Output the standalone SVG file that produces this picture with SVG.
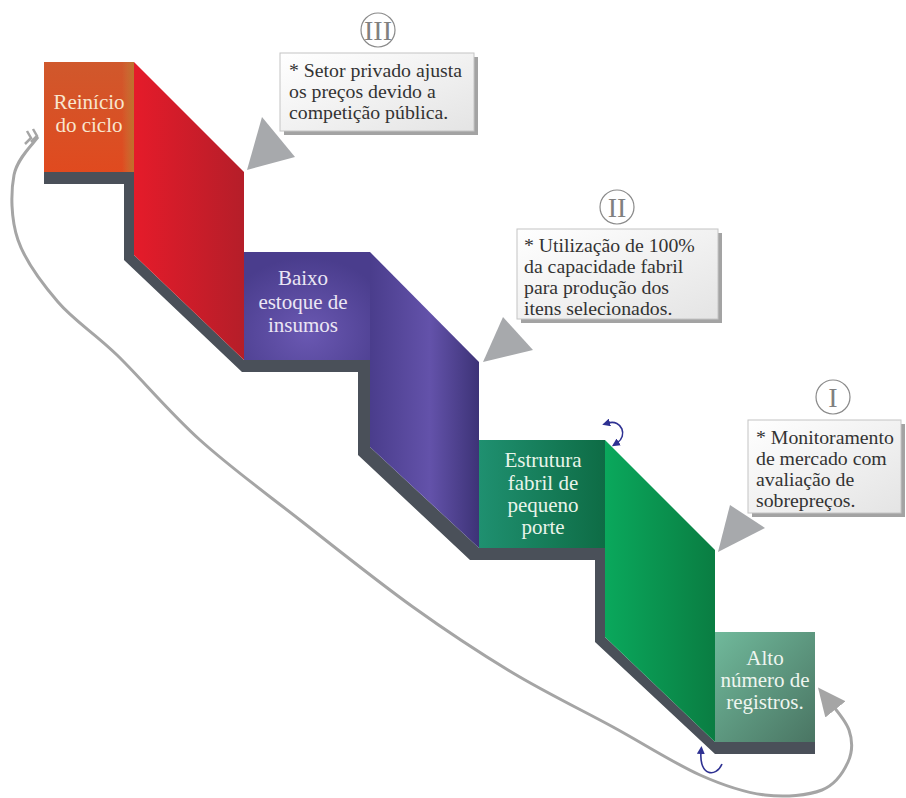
<svg xmlns="http://www.w3.org/2000/svg" width="906" height="798" viewBox="0 0 906 798">
<defs>
<style>
.node-text{font-family:"Liberation Serif","Times New Roman",serif;font-size:21px;text-anchor:middle}
.callout-text{font-family:"Liberation Serif","Times New Roman",serif;font-size:19.8px;fill:#333333}
.roman{font-family:"Liberation Serif","Times New Roman",serif;font-size:28px;fill:#808080;text-anchor:middle}
.ring{fill:#fff;stroke:#8a8a8a;stroke-width:1.2}
.box{fill:url(#boxGrad);stroke:#c4c4c4;stroke-width:1}
.boxShadow{fill:#a3a3a3}
.pointer{fill:#a7a9ac}
.loop{fill:none;stroke:#a5a5a5;stroke-width:3}
.curl{fill:none;stroke:#2e3192;stroke-width:1.6}
</style>
<linearGradient id="boxGrad" x1="0" y1="0" x2="1" y2="1">
<stop offset="0" stop-color="#ffffff"/><stop offset="1" stop-color="#e4e4e4"/>
</linearGradient>
<linearGradient id="orangeG" x1="0" y1="0" x2="0" y2="1">
<stop offset="0" stop-color="#d0582c"/><stop offset="1" stop-color="#e04a1f"/>
</linearGradient>
<linearGradient id="foldO" x1="0" y1="0" x2="1" y2="0">
<stop offset="0" stop-color="#c88040" stop-opacity="0"/><stop offset="1" stop-color="#b8782e" stop-opacity="0.8"/>
</linearGradient>
<linearGradient id="redG" x1="0" y1="0" x2="1" y2="0">
<stop offset="0" stop-color="#e51b2a"/><stop offset="1" stop-color="#b51e29"/>
</linearGradient>
<radialGradient id="purpleSq" cx="0.5" cy="0.75" r="0.7">
<stop offset="0" stop-color="#6a58b2"/><stop offset="1" stop-color="#4a3d8d"/>
</radialGradient>
<linearGradient id="purpleG" x1="0" y1="0" x2="1" y2="0">
<stop offset="0" stop-color="#4a3d8c"/><stop offset="0.55" stop-color="#6352aa"/><stop offset="1" stop-color="#3d3377"/>
</linearGradient>
<linearGradient id="greenSq" x1="0" y1="0" x2="1" y2="0">
<stop offset="0" stop-color="#1f9070"/><stop offset="1" stop-color="#0e6c45"/>
</linearGradient>
<linearGradient id="greenG" x1="0" y1="0" x2="1" y2="0">
<stop offset="0" stop-color="#0aa85c"/><stop offset="1" stop-color="#0a7d42"/>
</linearGradient>
<linearGradient id="altoG" x1="0" y1="0" x2="1" y2="1">
<stop offset="0" stop-color="#70b99b"/><stop offset="1" stop-color="#4a7563"/>
</linearGradient>
<marker id="loopHead" markerUnits="userSpaceOnUse" markerWidth="30" markerHeight="26" viewBox="0 0 30 26" refX="12" refY="13" orient="auto">
<path d="M0,0 L28,13 L0,26 z" fill="#a5a5a5"/>
</marker>
<marker id="curlHead" markerUnits="userSpaceOnUse" markerWidth="8" markerHeight="8" viewBox="0 0 8 8" refX="2" refY="4" orient="auto-start-reverse">
<path d="M0,0 L8,4 L0,8 z" fill="#2e3192"/>
</marker>
</defs>
<rect width="906" height="798" fill="#ffffff"/>

<g id="stairs">
<polygon id="shadow" fill="#4a5059" points="44,172 134,172 134,255 244,360 370,360 370,447 479,548 605,548 605,637 715,742 815,742 815,754 715,754 595,642 595,560 470,560 358,455 358,372 242,372 124,260 124,184 44,184"/>
<polygon id="riser-red" fill="url(#redG)" points="134,62 244,172 244,360 134,255"/>
<polygon id="riser-purple" fill="url(#purpleG)" points="370,252 479,362 479,548 370,447"/>
<polygon id="riser-green" fill="url(#greenG)" points="605,440 715,550 715,742 605,637"/>
</g>

<g id="connectors">
<path class="loop" marker-end="url(#loopHead)" d="M38,137 C34,143 17.3,157.8 14,175 C10.7,192.2 10.7,218.8 18,240 C25.3,261.2 41.5,282.8 58,302 C74.5,321.2 93.3,332 117,355 C140.7,378 169.5,412.5 200,440 C230.5,467.5 264.5,492.2 300,520 C335.5,547.8 377.5,581.5 413,607 C448.5,632.5 479.7,653 513,673 C546.3,693 581.8,710 613,727 C644.2,744 674.7,763.7 700,775 C725.3,786.3 744.7,792.5 765,795 C785.3,797.5 808.2,795.5 822,790 C835.8,784.5 843.5,772 848,762 C852.5,752 852.7,740.7 849,730 C845.3,719.3 832,705 828,700"/>
<path fill="none" stroke="#a5a5a5" stroke-width="2.5" d="M27,131 L31,138 L25,144 M33,129 L37,136 L31,142"/>
<polygon class="pointer" points="247,170 262,117 295,157"/>
<polygon class="pointer" points="483,362 503,317 533,350"/>
<polygon class="pointer" points="718,552 730,505 765,528"/>
<path class="curl" marker-start="url(#curlHead)" marker-end="url(#curlHead)" d="M608,423 C622,419 628,436 617,443"/>
<path class="curl" marker-start="url(#curlHead)" d="M701,752 C699,776 716,778 722,764"/>
</g>

<g id="node-reinicio">
<rect x="44" y="62" width="90" height="110" fill="url(#orangeG)"/>
<rect x="122" y="62" width="12" height="110" fill="url(#foldO)"/>
<text class="node-text" fill="#f8e6cf" x="89" y="109">Reinício</text>
<text class="node-text" fill="#f8e6cf" x="89" y="132">do ciclo</text>
</g>

<g id="node-baixo">
<rect x="244" y="252" width="126" height="108" fill="url(#purpleSq)"/>
<text class="node-text" fill="#ebe6f4" x="303" y="285">Baixo</text>
<text class="node-text" fill="#ebe6f4" x="303" y="309">estoque de</text>
<text class="node-text" fill="#ebe6f4" x="303" y="332">insumos</text>
</g>

<g id="node-estrutura">
<rect x="479" y="440" width="126" height="108" fill="url(#greenSq)"/>
<text class="node-text" fill="#e8f4ea" x="543" y="467">Estrutura</text>
<text class="node-text" fill="#e8f4ea" x="543" y="490">fabril de</text>
<text class="node-text" fill="#e8f4ea" x="543" y="512">pequeno</text>
<text class="node-text" fill="#e8f4ea" x="543" y="534">porte</text>
</g>

<g id="node-alto">
<rect x="715" y="632" width="100" height="110" fill="url(#altoG)"/>
<text class="node-text" fill="#eef5ef" x="765" y="665">Alto</text>
<text class="node-text" fill="#eef5ef" x="765" y="687">número de</text>
<text class="node-text" fill="#eef5ef" x="765" y="709">registros.</text>
</g>

<g id="callout-III">
<circle class="ring" cx="378" cy="30" r="17"/>
<text class="roman" x="378" y="40">III</text>
<rect class="boxShadow" x="284" y="57" width="194" height="78"/>
<rect class="box" x="280" y="53" width="194" height="78"/>
<text class="callout-text" x="289" y="77">* Setor privado ajusta</text>
<text class="callout-text" x="289" y="98">os preços devido a</text>
<text class="callout-text" x="289" y="119">competição pública.</text>
</g>

<g id="callout-II">
<circle class="ring" cx="617" cy="207" r="17"/>
<text class="roman" x="617" y="217">II</text>
<rect class="boxShadow" x="521" y="233" width="201" height="90"/>
<rect class="box" x="517" y="229" width="201" height="90"/>
<text class="callout-text" x="524" y="252">* Utilização de 100%</text>
<text class="callout-text" x="524" y="273">da capacidade fabril</text>
<text class="callout-text" x="524" y="294">para produção dos</text>
<text class="callout-text" x="524" y="315">itens selecionados.</text>
</g>

<g id="callout-I">
<circle class="ring" cx="833" cy="397" r="17"/>
<text class="roman" x="833" y="407">I</text>
<rect class="boxShadow" x="752" y="424" width="153" height="93"/>
<rect class="box" x="748" y="420" width="153" height="93"/>
<text class="callout-text" x="756" y="444">* Monitoramento</text>
<text class="callout-text" x="756" y="465">de mercado com</text>
<text class="callout-text" x="756" y="486">avaliação de</text>
<text class="callout-text" x="756" y="507">sobrepreços.</text>
</g>
</svg>
